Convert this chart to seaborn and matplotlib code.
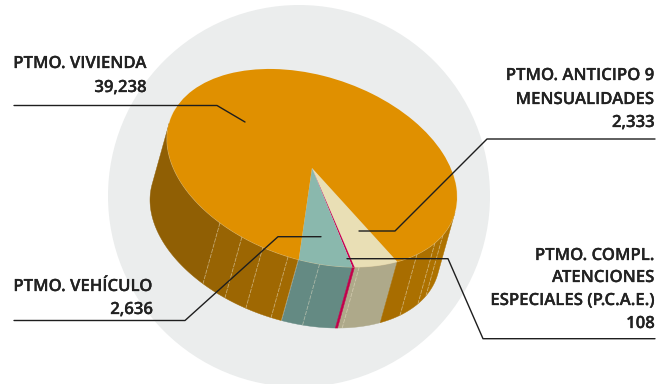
import numpy as np
import matplotlib
matplotlib.use("Agg")
import matplotlib.pyplot as plt
from matplotlib.transforms import Affine2D
from matplotlib.patches import Circle
import matplotlib.patheffects as pe
import seaborn as sns

# Slice values, ordered counter-clockwise around the disc
loan_names = ["PTMO. ANTICIPO 9 MENSUALIDADES", "PTMO. COMPL. ATENCIONES ESPECIALES (P.C.A.E.)",
              "PTMO. VEHÍCULO", "PTMO. VIVIENDA"]
loan_values = [2333, 108, 2636, 39238]
top_colors = ["#E9DFB5", "#C8004F", "#8AB8AD", "#E09000"]
side_colors = ["#AEA98A", "#C0004A", "#648A83", "#A06802"]

# Shading of the orange side wall: facet limits in disc degrees and their colours
facet_spans = [(95.5, 99.5), (99.5, 109.8), (109.8, 118.9), (118.9, 129.4), (129.4, 190.0),
               (9.5, 25.4), (25.4, 32.0), (32.0, 43.6), (43.6, 54.0)]
facet_colors = ["#A26A02", "#9F6802", "#9C6602", "#986403", "#905F04",
                "#AE7200", "#AD7100", "#AB7000", "#A86D00"]
stripe_angles = [43.6, 25.4, 32.0, 99.5, 109.8, 118.9, 129.4, 87.0, 71.0]

# Callout text: (lines, right edge, baselines)
callouts = [
    (["PTMO. VIVIENDA", "39,238"], 147, [68, 92]),
    (["PTMO. VEHÍCULO", "2,636"], 153, [291, 314]),
    (["PTMO. ANTICIPO 9", "MENSUALIDADES", "2,333"], 655, [80, 104, 127]),
    (["PTMO. COMPL.", "ATENCIONES", "ESPECIALES (P.C.A.E.)", "108"], 655, [260, 282, 305, 328]),
]
leader_x = [[14, 217, 245], [14, 185, 278, 321], [359, 395, 487, 655], [347, 448, 483, 655]]
leader_y = [[105.5, 105.5, 122], [320.5, 320.5, 236.7, 236.7], [231, 231, 139, 139], [258.7, 258.7, 338.7, 338.7]]

sns.set_theme(style="white")
plt.rcParams["font.family"] = ["Open Sans", "DejaVu Sans"]

fig = plt.figure(figsize=(6.57, 3.84), dpi=100)
ax = fig.add_axes([0, 0, 1, 1])

START = 54.0
DROP = np.array([-17.0, 61.0])
disc = Affine2D.from_values(145, 29, 0, 94.7, 312, 168)


def rim(deg):
    t = np.radians(np.asarray(deg, dtype=float))
    return disc.transform(np.column_stack([np.cos(t), np.sin(t)]))


def wall(a0, a1, color, lw=0.3):
    arc = rim(np.linspace(a0, a1, max(int(abs(a1 - a0)) + 2, 2)))
    pts = np.vstack([arc, arc[::-1] + DROP])
    ax.fill(pts[:, 0], pts[:, 1], color=color, lw=lw, zorder=1)


wedges, _ = ax.pie(loan_values, colors=top_colors, startangle=START, counterclock=True,
                   wedgeprops=dict(linewidth=0))
for w in wedges:
    w.set_transform(disc + ax.transData)
    w.set_zorder(3)

ax.set_aspect("auto")
ax.set_xlim(0, 657)
ax.set_ylim(384, 0)
ax.axis("off")

ax.add_patch(Circle((299, 196), 191, color="#EBEDED", lw=0, zorder=0))

# Side walls, extruded from the slice boundaries
edges = START + 360 * np.concatenate([[0], np.cumsum(loan_values)]) / sum(loan_values)
wall(edges[0], edges[1], side_colors[0])
wall(edges[2], edges[3], side_colors[2])
for (a0, a1), c in zip(facet_spans, facet_colors):
    wall(a0, a1, c)

for a in stripe_angles:
    p = rim([a])[0]
    ax.plot([p[0], p[0] + DROP[0]], [p[1], p[1] + DROP[1]], color="#F0E6CC", alpha=0.5, lw=0.6,
            ls=(0, (5, 1.5)), zorder=2)

# The crimson slice is so narrow that its wall gets a thin stroke as well as a fill
wall(edges[1], edges[2], side_colors[1], lw=0.4)

# Pale highlight where the top face meets the wall
front = rim(np.linspace(-15, 200, 200))
ax.plot(front[:, 0], front[:, 1], color="#F3D9A0", alpha=0.6, lw=0.7, zorder=2.5)

for xs, ys in zip(leader_x, leader_y):
    sns.lineplot(x=xs, y=ys, sort=False, estimator=None, color="#1E1E1E", lw=1.0, ax=ax, zorder=4)
ax.set_xlabel("")
ax.set_ylabel("")

for lines, right, baselines in callouts:
    for line, base in zip(lines, baselines):
        ax.text(right, base, line, ha="right", va="baseline", fontsize=12.05, fontweight=600,
                color="#222222", zorder=5,
                path_effects=[pe.withStroke(linewidth=0.2, foreground="#222222")])

fig.savefig("out.png", dpi=100)
